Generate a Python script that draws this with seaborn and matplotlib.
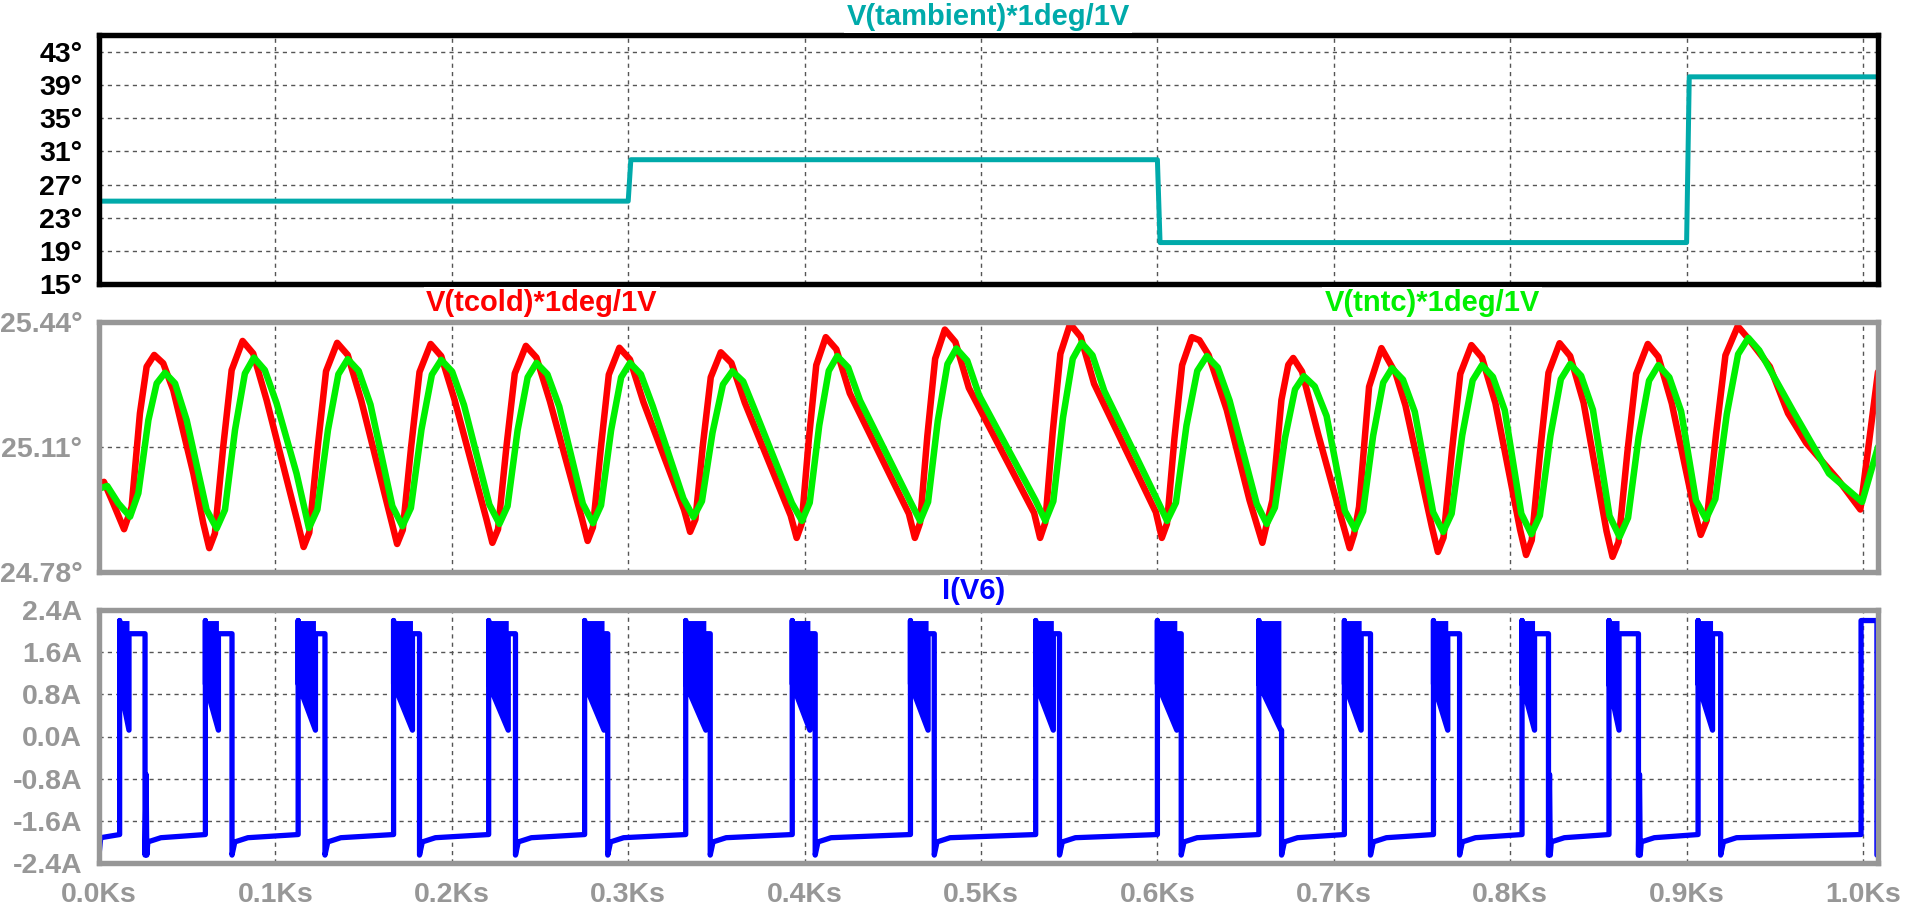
import matplotlib
matplotlib.use("Agg")
import matplotlib.pyplot as plt
import seaborn as sns

# ---------------- data ----------------
X_TICKS = [0.0, 0.1, 0.2, 0.3, 0.4, 0.5, 0.6, 0.7, 0.8, 0.9, 1.0]
X_LABELS = ["0.0Ks", "0.1Ks", "0.2Ks", "0.3Ks", "0.4Ks", "0.5Ks",
            "0.6Ks", "0.7Ks", "0.8Ks", "0.9Ks", "1.0Ks"]

TOP_TICKS = [15, 19, 23, 27, 31, 35, 39, 43]
TOP_LABELS = ["15°", "19°", "23°", "27°", "31°", "35°", "39°", "43°"]
MID_TICKS = [24.78, 25.11, 25.44]
MID_LABELS = ["24.78°", "25.11°", "25.44°"]
BOT_TICKS = [-2.4, -1.6, -0.8, 0.0, 0.8, 1.6, 2.4]
BOT_LABELS = ["-2.4A", "-1.6A", "-0.8A", "0.0A", "0.8A", "1.6A", "2.4A"]

# V(tambient)
TAMB_T = [0.0, 0.300, 0.3015, 0.600, 0.6015, 0.900, 0.9015, 1.008]
TAMB_V = [25.0, 25.0, 30.0, 30.0, 20.0, 20.0, 40.0, 40.0]

# V(tcold)
TCOLD_T = [
    0.0006, 0.0028, 0.0081, 0.0142, 0.0185, 0.0232, 0.0270, 0.0313, 0.0364, 0.0421,
    0.0535, 0.0591, 0.0625, 0.0657, 0.0704, 0.0752, 0.0814, 0.0874, 0.0950, 0.1126,
    0.1160, 0.1192, 0.1240, 0.1287, 0.1350, 0.1410, 0.1486, 0.1656,
    0.1690, 0.1722, 0.1770, 0.1817, 0.1880, 0.1940, 0.2016, 0.2196,
    0.2230, 0.2262, 0.2310, 0.2357, 0.2420, 0.2480, 0.2556, 0.2736,
    0.2770, 0.2800, 0.2846, 0.2890, 0.2950, 0.3010, 0.3086, 0.3317,
    0.3351, 0.3381, 0.3424, 0.3468, 0.3525, 0.3585, 0.3661, 0.3921,
    0.3955, 0.3983, 0.4024, 0.4066, 0.4120, 0.4180, 0.4256, 0.4591,
    0.4625, 0.4654, 0.4696, 0.4740, 0.4795, 0.4855, 0.4931, 0.5301,
    0.5335, 0.5364, 0.5406, 0.5450, 0.5505, 0.5565, 0.5641, 0.5991,
    0.6025, 0.6054, 0.6096, 0.6140, 0.6195, 0.6238, 0.6290, 0.6393, 0.6522,
    0.6595, 0.6652, 0.6703, 0.6742, 0.6770, 0.6820, 0.6910, 0.7040,
    0.7090, 0.7115, 0.7143, 0.7200, 0.7270, 0.7350, 0.7406, 0.7556,
    0.7590, 0.7622, 0.7670, 0.7717, 0.7780, 0.7840, 0.7916, 0.8056,
    0.8090, 0.8122, 0.8170, 0.8217, 0.8280, 0.8340, 0.8416, 0.8546,
    0.8580, 0.8614, 0.8664, 0.8714, 0.8780, 0.8840, 0.8916, 0.9046,
    0.9080, 0.9114, 0.9168, 0.9220, 0.9290, 0.9350, 0.9472, 0.9575, 0.9679, 0.9860,
    0.9985, 1.0085,
]
TCOLD_V = [
    25.014, 25.018, 24.961, 24.893, 24.952, 25.199, 25.322, 25.353, 25.331, 25.260,
    25.040, 24.909, 24.843, 24.882, 25.110, 25.313, 25.390, 25.357, 25.234, 24.911,
    24.846, 24.884, 25.110, 25.310, 25.385, 25.353, 25.234, 24.918,
    24.854, 24.891, 25.113, 25.308, 25.382, 25.350, 25.234, 24.920,
    24.857, 24.893, 25.112, 25.304, 25.377, 25.346, 25.231, 24.924,
    24.862, 24.898, 25.112, 25.301, 25.372, 25.341, 25.229, 24.944,
    24.886, 24.919, 25.118, 25.294, 25.360, 25.332, 25.227, 24.929,
    24.870, 24.907, 25.130, 25.326, 25.400, 25.368, 25.252, 24.934,
    24.870, 24.909, 25.140, 25.343, 25.420, 25.387, 25.266, 24.936,
    24.870, 24.910, 25.147, 25.356, 25.435, 25.401, 25.277, 24.938,
    24.870, 24.907, 25.130, 25.326, 25.400, 25.392, 25.353, 25.208, 24.970,
    24.857, 24.970, 25.234, 25.327, 25.345, 25.309, 25.146, 24.926,
    24.843, 24.880, 24.952, 25.269, 25.371, 25.305, 25.220, 24.899,
    24.833, 24.871, 25.101, 25.303, 25.379, 25.346, 25.226, 24.892,
    24.825, 24.864, 25.099, 25.306, 25.384, 25.350, 25.227, 24.888,
    24.820, 24.859, 25.095, 25.303, 25.382, 25.348, 25.225, 24.938,
    24.878, 24.917, 25.148, 25.352, 25.429, 25.396, 25.322, 25.199, 25.120, 25.023,
    24.945, 25.308,
]

# V(tntc)
TNTC_T = [
    0.0006, 0.0047, 0.0110, 0.0176, 0.0223, 0.0280, 0.0327, 0.0374, 0.0431, 0.0497,
    0.0610, 0.0667, 0.0714, 0.0771, 0.0827, 0.0878, 0.0940, 0.1007, 0.1120,
    0.1190, 0.1238, 0.1298, 0.1357, 0.1410, 0.1472, 0.1539, 0.1663,
    0.1720, 0.1768, 0.1828, 0.1887, 0.1940, 0.2002, 0.2069, 0.2213,
    0.2270, 0.2316, 0.2373, 0.2430, 0.2480, 0.2542, 0.2609, 0.2743,
    0.2800, 0.2846, 0.2903, 0.2960, 0.3010, 0.3072, 0.3139, 0.3313,
    0.3370, 0.3418, 0.3478, 0.3537, 0.3590, 0.3652, 0.3719, 0.3928,
    0.3985, 0.4029, 0.4083, 0.4137, 0.4185, 0.4247, 0.4314, 0.4598,
    0.4655, 0.4700, 0.4755, 0.4810, 0.4860, 0.4922, 0.4989, 0.5308,
    0.5365, 0.5410, 0.5465, 0.5520, 0.5570, 0.5632, 0.5699, 0.5998,
    0.6055, 0.6105, 0.6165, 0.6226, 0.6280, 0.6342, 0.6409, 0.6563,
    0.6620, 0.6666, 0.6723, 0.6780, 0.6830, 0.6892, 0.6959, 0.7063,
    0.7120, 0.7166, 0.7223, 0.7280, 0.7330, 0.7392, 0.7459, 0.7563,
    0.7620, 0.7668, 0.7728, 0.7787, 0.7840, 0.7902, 0.7969, 0.8063,
    0.8120, 0.8168, 0.8228, 0.8287, 0.8340, 0.8402, 0.8469, 0.8563,
    0.8620, 0.8668, 0.8728, 0.8787, 0.8840, 0.8902, 0.8969, 0.9053,
    0.9110, 0.9163, 0.9228, 0.9292, 0.9350, 0.9412, 0.9600, 0.9807, 0.9995, 1.0085,
]
TNTC_V = [
    25.001, 25.007, 24.961, 24.926, 24.988, 25.181, 25.278, 25.306, 25.278, 25.181,
    24.944, 24.895, 24.944, 25.155, 25.304, 25.346, 25.313, 25.225, 25.040,
    24.896, 24.945, 25.155, 25.302, 25.342, 25.311, 25.222, 24.954,
    24.901, 24.949, 25.156, 25.301, 25.340, 25.309, 25.221, 24.958,
    24.907, 24.954, 25.154, 25.294, 25.332, 25.302, 25.217, 24.960,
    24.909, 24.956, 25.154, 25.294, 25.332, 25.302, 25.218, 24.974,
    24.925, 24.967, 25.148, 25.275, 25.310, 25.283, 25.206, 24.962,
    24.915, 24.963, 25.167, 25.311, 25.350, 25.320, 25.233, 24.967,
    24.915, 24.965, 25.179, 25.329, 25.370, 25.338, 25.247, 24.970,
    24.915, 24.967, 25.188, 25.343, 25.385, 25.352, 25.258, 24.971,
    24.915, 24.963, 25.167, 25.311, 25.350, 25.320, 25.233, 24.960,
    24.907, 24.950, 25.133, 25.262, 25.297, 25.270, 25.192, 24.941,
    24.893, 24.940, 25.140, 25.280, 25.318, 25.288, 25.203, 24.938,
    24.886, 24.934, 25.141, 25.286, 25.326, 25.295, 25.207, 24.934,
    24.880, 24.929, 25.140, 25.289, 25.329, 25.298, 25.208, 24.928,
    24.873, 24.923, 25.136, 25.285, 25.326, 25.294, 25.204, 24.969,
    24.920, 24.973, 25.197, 25.355, 25.398, 25.365, 25.208, 25.040, 24.965, 25.110,
]

# I(V6): one entry per heating pulse
PULSE_RISE = [0.0117, 0.0603, 0.1129, 0.1670, 0.2209, 0.2753, 0.3326, 0.3930,
              0.4600, 0.5310, 0.6000, 0.6575, 0.7060, 0.7565, 0.8067, 0.8560, 0.9065]
PULSE_CHAT_END = [0.0170, 0.0677, 0.1227, 0.1777, 0.2320, 0.2863, 0.3440, 0.4030,
                  0.4700, 0.5410, 0.6110, 0.6700, 0.7155, 0.7646, 0.8138, 0.8617, 0.9147]
PULSE_FALL = [0.0261, 0.0754, 0.1281, 0.1817, 0.2361, 0.2884, 0.3465, 0.4060,
              0.4735, 0.5445, 0.6135, 0.6704, 0.7208, 0.7713, 0.8217, 0.8727, 0.9193]
PULSE_SPIKE = [True, False, False, False, False, False, False, False,
               False, False, False, False, False, False, True, True, False]
CUR_START = [0.07, -2.25, -1.92]
LAST_RISE = 0.9989
LAST_FALL = 1.0079
I_TOP = 2.20          # top of the chattering burst
I_CHAT_LO = 0.12      # deepest point of the burst
I_CHAT_LO0 = 1.00     # burst lower edge right after the rising edge
I_PLATEAU = 1.95
I_DIP = -2.25
I_REC = [-2.00, -1.92, -1.86]   # recovery after each falling edge
I_SPIKE = -0.72

# ---------------- styling ----------------
W, H = 1916, 914
TEAL = "#00AAAA"
GRAY = "#979797"
RED = "#FF0000"
GREEN = "#00F000"
BLUE = "#0000FF"
GRID = "#555555"

sns.set_theme(style="white")
plt.rcParams["font.family"] = ["Liberation Sans", "DejaVu Sans"]
plt.rcParams["font.weight"] = "bold"

fig = plt.figure(figsize=(W / 100, H / 100), dpi=100)
fig.patch.set_facecolor("white")


def make_ax(left, top, right, bottom):
    return fig.add_axes([left / W, 1 - bottom / H, (right - left) / W, (bottom - top) / H])


def style_ax(ax, frame_color, yticks, ylabels, ylim, show_x):
    ax.set_facecolor("white")
    ax.set_xlim(0.0, 1.0085)
    ax.set_ylim(*ylim)
    ax.set_xticks(X_TICKS)
    ax.set_yticks(yticks)
    ax.set_yticklabels(ylabels)
    if show_x:
        ax.set_xticklabels(X_LABELS)
        ax.tick_params(axis="x", direction="out", length=12, width=3.8,
                       color=frame_color, labelcolor=frame_color, labelsize=20.5, pad=2)
    else:
        ax.set_xticklabels([])
        ax.tick_params(axis="x", length=0)
    ax.tick_params(axis="y", direction="out", length=12, width=3.3,
                   color=frame_color, labelcolor=frame_color, labelsize=20.5, pad=0)
    for lab in ax.get_xticklabels() + ax.get_yticklabels():
        lab.set_fontweight("bold")
    for sp in ax.spines.values():
        sp.set_color(frame_color)
        sp.set_linewidth(3.9)
        sp.set_capstyle("projecting")
        sp.set_zorder(5)
    ax.grid(True, linestyle=(0, (3, 3)), color=GRID, linewidth=1.0)
    ax.set_axisbelow(True)
    ax.set_xlabel("")
    ax.set_ylabel("")


ax_top = make_ax(99, 35, 1878, 284)
ax_mid = make_ax(99, 322, 1878, 572)
ax_bot = make_ax(99, 610, 1878, 863)

# top panel
sns.lineplot(x=TAMB_T, y=TAMB_V, ax=ax_top, color=TEAL, linewidth=3.6,
             sort=False, estimator=None)
style_ax(ax_top, "black", TOP_TICKS, TOP_LABELS, (15, 45.05), False)

# middle panel
sns.lineplot(x=TCOLD_T, y=TCOLD_V, ax=ax_mid, color=RED, linewidth=4.7,
             sort=False, estimator=None)
sns.lineplot(x=TNTC_T, y=TNTC_V, ax=ax_mid, color=GREEN, linewidth=4.7,
             sort=False, estimator=None)
for ln in ax_mid.lines:
    ln.set_solid_joinstyle("round")
    ln.set_solid_capstyle("round")
style_ax(ax_mid, GRAY, MID_TICKS, MID_LABELS, (24.78, 25.44), False)

# bottom panel: assemble the current trace from the per-pulse readings
cur_t = [0.0, 0.0, 0.001]
cur_a = list(CUR_START)
for i, (r, c, f) in enumerate(zip(PULSE_RISE, PULSE_CHAT_END, PULSE_FALL)):
    has_plateau = f > c + 0.0005
    level = I_PLATEAU if has_plateau else I_CHAT_LO
    cur_t += [r, r, r, c, c, f, f]
    cur_a += [I_REC[2], I_TOP, I_CHAT_LO0, I_CHAT_LO, level, level, I_DIP]
    if PULSE_SPIKE[i]:
        cur_t += [f + 0.0006, f + 0.0010]
        cur_a += [I_SPIKE, I_DIP]
    nxt = PULSE_RISE[i + 1] if i + 1 < len(PULSE_RISE) else LAST_RISE
    cur_t += [f + 0.0016, f + 0.009, nxt]
    cur_a += I_REC
cur_t += [LAST_RISE, LAST_FALL, LAST_FALL]
cur_a += [I_TOP, I_TOP, I_DIP]

sns.lineplot(x=cur_t, y=cur_a, ax=ax_bot, color=BLUE, linewidth=3.8,
             sort=False, estimator=None)
for ln in ax_bot.lines:
    ln.set_solid_joinstyle("round")
# chattering bursts drawn as solid wedges
for r, c in zip(PULSE_RISE, PULSE_CHAT_END):
    ax_bot.fill_between([r, c], [I_CHAT_LO0, I_CHAT_LO], [I_TOP, I_TOP],
                        color=BLUE, linewidth=0)
style_ax(ax_bot, GRAY, BOT_TICKS, BOT_LABELS, (-2.4, 2.4), True)

box = dict(facecolor="white", edgecolor="none", pad=1.5)
fig.text(988 / W, 1 - 17 / H, "V(tambient)*1deg/1V", color=TEAL, fontsize=21,
         fontweight="bold", ha="center", va="center", bbox=box)
fig.text(542 / W, 1 - 303 / H, "V(tcold)*1deg/1V", color=RED, fontsize=21,
         fontweight="bold", ha="center", va="center", bbox=box)
fig.text(1432 / W, 1 - 303 / H, "V(tntc)*1deg/1V", color=GREEN, fontsize=21,
         fontweight="bold", ha="center", va="center", bbox=box)
fig.text(974 / W, 1 - 591 / H, "I(V6)", color=BLUE, fontsize=21,
         fontweight="bold", ha="center", va="center", bbox=box)

fig.savefig("out.png", dpi=100, facecolor="white")
